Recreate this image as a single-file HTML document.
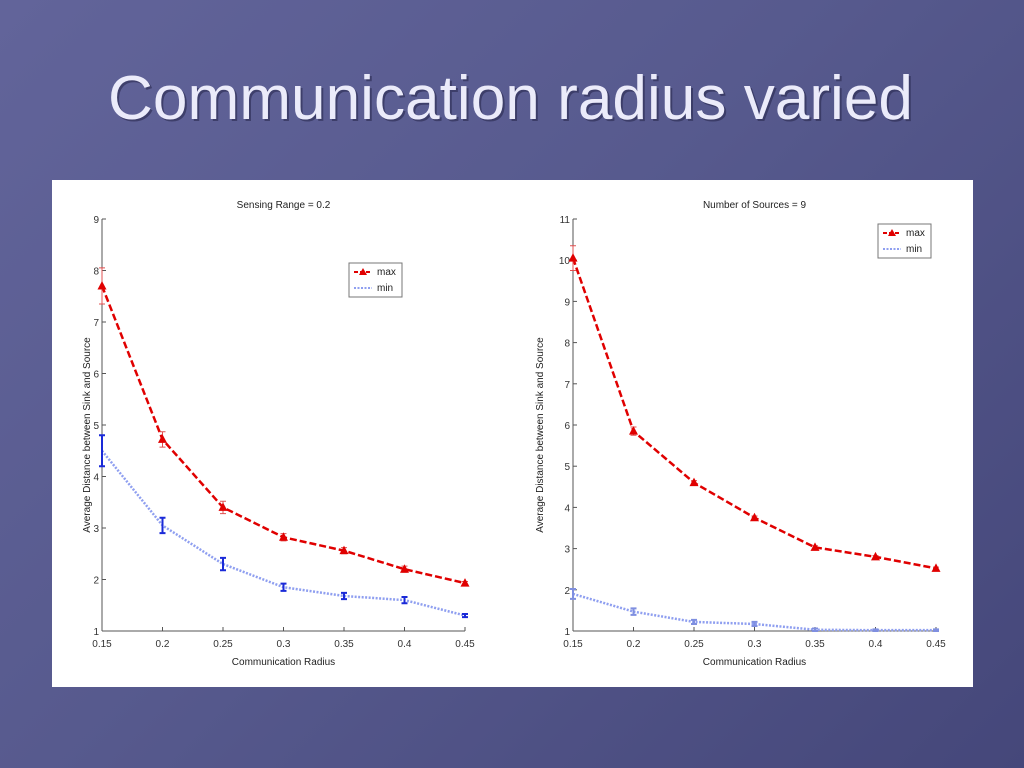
<!DOCTYPE html>
<html><head><meta charset="utf-8"><style>
html,body{margin:0;padding:0;width:1024px;height:768px;overflow:hidden;}
body{background:linear-gradient(135deg,#62649a 0%,#575a8e 45%,#45477a 100%);font-family:"Liberation Sans",sans-serif;}
svg text{font-family:"Liberation Sans",sans-serif;}
</style></head><body>
<svg id="s" width="1024" height="768" xmlns="http://www.w3.org/2000/svg">
<text x="110" y="121" fill="#2a2a50" font-size="62" textLength="805" lengthAdjust="spacingAndGlyphs" opacity="0.6">Communication radius varied</text>
<text x="108" y="119" fill="#ebebfa" font-size="62" textLength="805" lengthAdjust="spacingAndGlyphs">Communication radius varied</text>
<rect x="52" y="180" width="921" height="507" fill="#ffffff"/>
<g id="g1"></g>
<g id="g2"></g>
</svg>
<script>
const xCats = [0.15,0.2,0.25,0.3,0.35,0.4,0.45];
const xTickLabels = ["0.15","0.2","0.25","0.3","0.35","0.4","0.45"];
const leftMax = [7.7,4.72,3.4,2.82,2.56,2.2,1.93];
const leftMaxErr = [0.35,0.15,0.12,0.07,0.06,0.06,0.03];
const leftMin = [4.5,3.05,2.3,1.85,1.68,1.6,1.3];
const leftMinErr = [0.3,0.15,0.12,0.07,0.06,0.06,0.03];
const leftYTicks = [1,2,3,4,5,6,7,8,9];
const rightMax = [10.05,5.85,4.6,3.75,3.03,2.8,2.52];
const rightMaxErr = [0.3,0.1,0.05,0.04,0.04,0.03,0.03];
const rightMin = [1.9,1.47,1.22,1.17,1.03,1.02,1.02];
const rightMinErr = [0.12,0.08,0.05,0.05,0.03,0.02,0.02];
const rightYTicks = [1,2,3,4,5,6,7,8,9,10,11];
const NS="http://www.w3.org/2000/svg";
function mk(p,tag,at,txt){const e=document.createElementNS(NS,tag);for(const k in at)e.setAttribute(k,at[k]);if(txt!==undefined)e.textContent=txt;p.appendChild(e);return e;}
function chart(g,cfg){
  const x0=cfg.x0,x1=cfg.x1,yb=631,yt=219;
  const xs=v=>x0+(v-0.15)/0.3*(x1-x0);
  const ys=v=>yb-(v-cfg.ymin)/(cfg.ymax-cfg.ymin)*(yb-yt);
  let a=mk(g,'line',{x1:x0,y1:yt,x2:x0,y2:yb,stroke:'#555','stroke-width':1});
  
  a=mk(g,'line',{x1:x0,y1:yb,x2:x1,y2:yb,stroke:'#555','stroke-width':1});
  
  cfg.yt.forEach(v=>{mk(g,'line',{x1:x0,y1:ys(v),x2:x0+4,y2:ys(v),stroke:'#555'});
    const t=mk(g,'text',{x:x0-3,y:ys(v)+4,'font-size':10,'text-anchor':'end',fill:'#333'},String(v));
    });
  xCats.forEach((v,i)=>{mk(g,'line',{x1:xs(v),y1:yb,x2:xs(v),y2:yb-4,stroke:'#555'});
    const t=mk(g,'text',{x:xs(v),y:yb+16,'font-size':10,'text-anchor':'middle',fill:'#333'},xTickLabels[i]);
    });
  const cx=(x0+x1)/2;
  let t=mk(g,'text',{x:cx,y:208,'font-size':10,'text-anchor':'middle',fill:'#222'},cfg.title);
  
  t=mk(g,'text',{x:cx,y:665,'font-size':10,'text-anchor':'middle',fill:'#222'},'Communication Radius');
  
  t=mk(g,'text',{x:0,y:0,'font-size':10,'text-anchor':'middle',fill:'#222',transform:`translate(${cfg.yl},${(yb+yt)/2+10}) rotate(-90)`},'Average Distance between Sink and Source');
  
  function series(vals,errs,col,dash,w,name,tri,ecol){
    const pts=vals.map((v,i)=>xs(xCats[i])+','+ys(v)).join(' ');
    const l=mk(g,'polyline',{points:pts,fill:'none',stroke:col,'stroke-width':w,'stroke-dasharray':dash});
    
    vals.forEach((v,i)=>{const x=xs(xCats[i]);
      const e=mk(g,'path',{d:`M${x},${ys(v+errs[i])}V${ys(v-errs[i])}M${x-3},${ys(v+errs[i])}h6M${x-3},${ys(v-errs[i])}h6`,stroke:ecol,'stroke-width':tri?1:2,fill:'none'});
      
      if(tri){const m=mk(g,'path',{d:`M${x},${ys(v)-5}L${x+4.5},${ys(v)+3.5}L${x-4.5},${ys(v)+3.5}Z`,fill:'#e00000'});
        }
    });
  }
  series(cfg.mn,cfg.mnE,'#8f9ff0','2,1.5',2.5,'min',false,cfg.minEc);
  series(cfg.mx,cfg.mxE,'#e00000','7,3',2.5,'max',true,'#e05050');
  const lg=mk(g,'g',{});
  
  const L=cfg.lx,T=cfg.ly;
  mk(lg,'rect',{x:L,y:T,width:53,height:34,fill:'#fff',stroke:'#777'});
  mk(lg,'line',{x1:L+5,y1:T+9,x2:L+23,y2:T+9,stroke:'#e00000','stroke-width':2,'stroke-dasharray':'4,2'});
  mk(lg,'path',{d:`M${L+14},${T+5}L${L+18},${T+12}L${L+10},${T+12}Z`,fill:'#e00000'});
  mk(lg,'text',{x:L+28,y:T+12,'font-size':10,fill:'#222'},'max');
  mk(lg,'line',{x1:L+5,y1:T+25,x2:L+23,y2:T+25,stroke:'#8f9ff0','stroke-width':2,'stroke-dasharray':'2,1.5'});
  mk(lg,'text',{x:L+28,y:T+28,'font-size':10,fill:'#222'},'min');
}
chart(document.getElementById('g1'),{x0:102,x1:465,ymin:1,ymax:9,yt:leftYTicks,title:'Sensing Range = 0.2',yl:90,mx:leftMax,mxE:leftMaxErr,mn:leftMin,mnE:leftMinErr,lx:349,ly:263,minEc:'#1a2ad8'});
chart(document.getElementById('g2'),{x0:573,x1:936,ymin:1,ymax:11,yt:rightYTicks,title:'Number of Sources = 9',yl:543,mx:rightMax,mxE:rightMaxErr,mn:rightMin,mnE:rightMinErr,lx:878,ly:224,minEc:'#7f8fe0'});
</script>
</body></html>
